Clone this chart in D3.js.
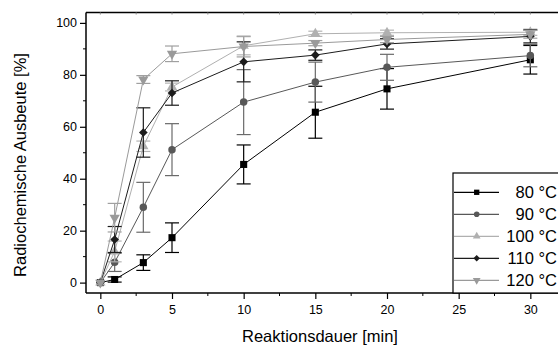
<!DOCTYPE html>
<html><head><meta charset="utf-8">
<script src="https://cdn.jsdelivr.net/npm/d3@7"></script>
<style>body{margin:0;background:#fff;}svg{display:block;font-family:"Liberation Sans",Arial,sans-serif;}</style>
</head><body>
<svg id="c" width="558" height="347"></svg>
<script>
const times = [0, 1, 3, 5, 10, 15, 20, 30];
const seriesNames = ["80 °C", "90 °C", "100 °C", "110 °C", "120 °C"];
const y80  = [0, 1.2, 7.7, 17.3, 45.5, 65.6, 74.6, 85.8];
const e80  = [0, 1.0, 3.0, 5.7, 7.5, 10.0, 7.8, 5.5];
const y90  = [0, 7.8, 29.0, 51.2, 69.5, 77.2, 82.9, 87.4];
const e90  = [0, 3.5, 9.6, 10.0, 12.5, 7.7, 5.0, 4.3];
const y100 = [0, 12.0, 52.5, 75.3, 91.2, 95.8, 96.2, 96.4];
const e100 = [0, 4.0, 2.0, 1.5, 3.5, 1.0, 1.0, 1.2];
const y110 = [0, 16.6, 57.8, 73.0, 85.0, 87.6, 91.9, 94.8];
const e110 = [0, 5.0, 9.5, 4.7, 7.7, 2.0, 2.0, 2.5];
const y120 = [0, 25.0, 78.2, 88.1, 90.9, 92.2, 93.6, 95.6];
const e120 = [0, 5.5, 1.5, 3.0, 4.0, 1.0, 1.2, 1.5];
const xTicks = [0, 5, 10, 15, 20, 25, 30];
const yTicks = [0, 20, 40, 60, 80, 100];

const colors = ["#000000", "#585858", "#b0b0b0", "#1c1c1c", "#9a9a9a"];
const errColors = ["#000000", "#6a6a6a", "#b4b4b4", "#1c1c1c", "#a0a0a0"];
const shapes = ["square", "circle", "triUp", "diamond", "triDown"];
const vals = [y80, y90, y100, y110, y120];
const errs = [e80, e90, e100, e110, e120];

const svg = d3.select("#c");
const x = d3.scaleLinear().domain([-1, 32]).range([86, 559]);
const y = d3.scaleLinear().domain([-4, 104]).range([293, 12.5]);

function symPath(shape, scale) {
  const s = scale || 1;
  if (shape === "square") return d3.symbol(d3.symbolSquare, 50 * s * s)();
  if (shape === "circle") return d3.symbol(d3.symbolCircle, 44 * s * s)();
  if (shape === "triUp" || shape === "triDown") return d3.symbol(d3.symbolTriangle, 46 * s * s)();
  if (shape === "diamond") return d3.symbol(d3.symbolSquare, 38 * s * s)();
}
function symRot(shape) {
  if (shape === "triDown") return 180;
  if (shape === "diamond") return 45;
  return 0;
}

// axes frame
const g = svg.append("g");
g.append("line").attr("x1", x(-1)).attr("x2", 560).attr("y1", y(104)).attr("y2", y(104)).attr("stroke", "#000").attr("stroke-width", 1.5);

const yAxis = d3.axisLeft(y).tickValues(yTicks).tickSize(6).tickPadding(3).tickSizeOuter(0);
const ya = g.append("g").attr("transform", `translate(${x(-1)},0)`).call(yAxis);
ya.select(".domain").attr("stroke-width", 1.5).attr("d", `M0,${y(-4)}V${y(104)}`);
ya.selectAll("text").attr("font-size", 12.5).attr("font-family", "Liberation Sans, Arial, sans-serif");
ya.selectAll(".tick line").attr("stroke-width", 1.2);
const yMinor = d3.range(10, 100, 20);
g.selectAll(".ymin").data(yMinor).enter().append("line")
  .attr("x1", x(-1)).attr("x2", x(-1) - 3).attr("y1", d => y(d)).attr("y2", d => y(d)).attr("stroke", "#000");

const xAxis = d3.axisBottom(x).tickValues(xTicks).tickSize(6).tickPadding(6).tickSizeOuter(0);
const xa = g.append("g").attr("transform", `translate(0,${y(-4)})`).call(xAxis);
xa.select(".domain").attr("stroke-width", 1.5).attr("d", `M${x(-1)},0H560`);
xa.selectAll("text").attr("font-size", 12.5).attr("font-family", "Liberation Sans, Arial, sans-serif");
xa.selectAll(".tick line").attr("stroke-width", 1.2);
const xMinor = d3.range(2.5, 32, 5);
g.selectAll(".xmin").data(xMinor).enter().append("line")
  .attr("x1", d => x(d)).attr("x2", d => x(d)).attr("y1", y(-4)).attr("y2", y(-4) + 3).attr("stroke", "#000");
// top ticks (inward, small)
g.selectAll(".xtop").data(xTicks.concat(xMinor)).enter().append("line")
  .attr("x1", d => x(d)).attr("x2", d => x(d)).attr("y1", y(104)).attr("y2", y(104) + 2).attr("stroke", "#888");

// axis titles
svg.append("text").attr("x", 320).attr("y", 342).attr("text-anchor", "middle")
  .attr("font-size", 16.5).text("Reaktionsdauer [min]");
svg.append("text").attr("transform", `translate(26,165) rotate(-90)`).attr("text-anchor", "middle")
  .attr("font-size", 16.5).text("Radiochemische Ausbeute [%]");

// series
const line = d3.line().x(d => x(d.t)).y(d => y(d.v));
vals.forEach((arr, i) => {
  const data = times.map((t, j) => ({ t, v: arr[j], e: errs[i][j] }));
  const sg = svg.append("g");
  sg.append("path").datum(data).attr("d", line).attr("fill", "none").attr("stroke", colors[i]).attr("stroke-width", 1);
  const eb = sg.selectAll(".eb").data(data.filter(d => d.e > 0)).enter().append("g");
  eb.append("line").attr("x1", d => x(d.t)).attr("x2", d => x(d.t)).attr("y1", d => y(d.v - d.e)).attr("y2", d => y(d.v + d.e))
    .attr("stroke", errColors[i]).attr("stroke-width", 1.2);
  [-1, 1].forEach(sgn => {
    eb.append("line").attr("x1", d => x(d.t) - 7).attr("x2", d => x(d.t) + 7)
      .attr("y1", d => y(d.v + sgn * d.e)).attr("y2", d => y(d.v + sgn * d.e))
      .attr("stroke", errColors[i]).attr("stroke-width", 1.2);
  });
  sg.selectAll(".pt").data(data).enter().append("path")
    .attr("d", symPath(shapes[i]))
    .attr("transform", d => `translate(${x(d.t)},${y(d.v)}) rotate(${symRot(shapes[i])})`)
    .attr("fill", colors[i]);
});

// legend
const lg = svg.append("g");
lg.append("rect").attr("x", 453).attr("y", 173).attr("width", 120).attr("height", 120)
  .attr("fill", "#fff").attr("stroke", "#000").attr("stroke-width", 1.2);
seriesNames.forEach((name, i) => {
  const cy = 192.3 + i * 22;
  lg.append("line").attr("x1", 454).attr("x2", 499).attr("y1", cy).attr("y2", cy).attr("stroke", colors[i]).attr("stroke-width", 1.2);
  lg.append("path").attr("d", symPath(shapes[i], 0.75))
    .attr("transform", `translate(476.7,${cy}) rotate(${symRot(shapes[i])})`).attr("fill", colors[i]);
  lg.append("text").attr("x", 557).attr("y", cy + 6).attr("text-anchor", "end").attr("font-size", 16.5).text(name);
});
</script>
</body></html>
